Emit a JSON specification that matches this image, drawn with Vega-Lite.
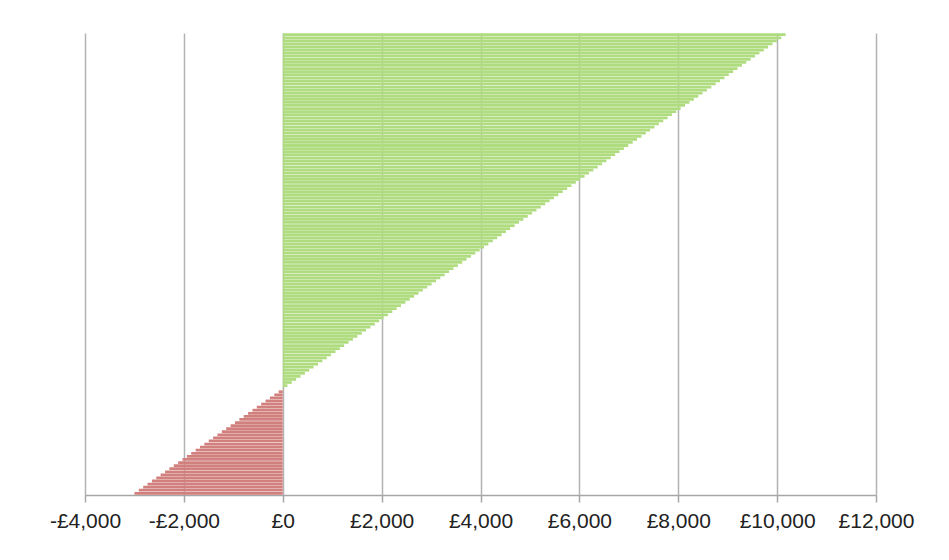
{
  "$schema": "https://vega.github.io/schema/vega-lite/v6.json",
  "width": 791,
  "height": 462,
  "autosize": {"type": "none"},
  "padding": {"left": 85, "top": 33, "right": 73, "bottom": 65},
  "background": "white",
  "config": {"view": {"stroke": null}, "font": "Liberation Sans"},
  "data": {"values": [
    {"id": 0, "v": -3000}, {"id": 1, "v": -2912}, {"id": 2, "v": -2823}, {"id": 3, "v": -2735}, {"id": 4, "v": -2646},
    {"id": 5, "v": -2558}, {"id": 6, "v": -2470}, {"id": 7, "v": -2381}, {"id": 8, "v": -2293}, {"id": 9, "v": -2204},
    {"id": 10, "v": -2116}, {"id": 11, "v": -2028}, {"id": 12, "v": -1939}, {"id": 13, "v": -1851}, {"id": 14, "v": -1762},
    {"id": 15, "v": -1674}, {"id": 16, "v": -1586}, {"id": 17, "v": -1497}, {"id": 18, "v": -1409}, {"id": 19, "v": -1320},
    {"id": 20, "v": -1232}, {"id": 21, "v": -1144}, {"id": 22, "v": -1055}, {"id": 23, "v": -967}, {"id": 24, "v": -878},
    {"id": 25, "v": -790}, {"id": 26, "v": -702}, {"id": 27, "v": -613}, {"id": 28, "v": -525}, {"id": 29, "v": -436},
    {"id": 30, "v": -348}, {"id": 31, "v": -260}, {"id": 32, "v": -171}, {"id": 33, "v": -83}, {"id": 34, "v": 6},
    {"id": 35, "v": 94}, {"id": 36, "v": 182}, {"id": 37, "v": 271}, {"id": 38, "v": 359}, {"id": 39, "v": 448},
    {"id": 40, "v": 536}, {"id": 41, "v": 624}, {"id": 42, "v": 713}, {"id": 43, "v": 801}, {"id": 44, "v": 890},
    {"id": 45, "v": 978}, {"id": 46, "v": 1066}, {"id": 47, "v": 1155}, {"id": 48, "v": 1243}, {"id": 49, "v": 1332},
    {"id": 50, "v": 1420}, {"id": 51, "v": 1508}, {"id": 52, "v": 1597}, {"id": 53, "v": 1685}, {"id": 54, "v": 1774},
    {"id": 55, "v": 1862}, {"id": 56, "v": 1950}, {"id": 57, "v": 2039}, {"id": 58, "v": 2127}, {"id": 59, "v": 2216},
    {"id": 60, "v": 2304}, {"id": 61, "v": 2392}, {"id": 62, "v": 2481}, {"id": 63, "v": 2569}, {"id": 64, "v": 2658},
    {"id": 65, "v": 2746}, {"id": 66, "v": 2834}, {"id": 67, "v": 2923}, {"id": 68, "v": 3011}, {"id": 69, "v": 3100},
    {"id": 70, "v": 3188}, {"id": 71, "v": 3276}, {"id": 72, "v": 3365}, {"id": 73, "v": 3453}, {"id": 74, "v": 3542},
    {"id": 75, "v": 3630}, {"id": 76, "v": 3718}, {"id": 77, "v": 3807}, {"id": 78, "v": 3895}, {"id": 79, "v": 3984},
    {"id": 80, "v": 4072}, {"id": 81, "v": 4160}, {"id": 82, "v": 4249}, {"id": 83, "v": 4337}, {"id": 84, "v": 4426},
    {"id": 85, "v": 4514}, {"id": 86, "v": 4602}, {"id": 87, "v": 4691}, {"id": 88, "v": 4779}, {"id": 89, "v": 4868},
    {"id": 90, "v": 4956}, {"id": 91, "v": 5044}, {"id": 92, "v": 5133}, {"id": 93, "v": 5221}, {"id": 94, "v": 5310},
    {"id": 95, "v": 5398}, {"id": 96, "v": 5486}, {"id": 97, "v": 5575}, {"id": 98, "v": 5663}, {"id": 99, "v": 5752},
    {"id": 100, "v": 5840}, {"id": 101, "v": 5928}, {"id": 102, "v": 6017}, {"id": 103, "v": 6105}, {"id": 104, "v": 6194},
    {"id": 105, "v": 6282}, {"id": 106, "v": 6370}, {"id": 107, "v": 6459}, {"id": 108, "v": 6547}, {"id": 109, "v": 6636},
    {"id": 110, "v": 6724}, {"id": 111, "v": 6812}, {"id": 112, "v": 6901}, {"id": 113, "v": 6989}, {"id": 114, "v": 7078},
    {"id": 115, "v": 7166}, {"id": 116, "v": 7254}, {"id": 117, "v": 7343}, {"id": 118, "v": 7431}, {"id": 119, "v": 7520},
    {"id": 120, "v": 7608}, {"id": 121, "v": 7696}, {"id": 122, "v": 7785}, {"id": 123, "v": 7873}, {"id": 124, "v": 7962},
    {"id": 125, "v": 8050}, {"id": 126, "v": 8138}, {"id": 127, "v": 8227}, {"id": 128, "v": 8315}, {"id": 129, "v": 8404},
    {"id": 130, "v": 8492}, {"id": 131, "v": 8580}, {"id": 132, "v": 8669}, {"id": 133, "v": 8757}, {"id": 134, "v": 8846},
    {"id": 135, "v": 8934}, {"id": 136, "v": 9022}, {"id": 137, "v": 9111}, {"id": 138, "v": 9199}, {"id": 139, "v": 9288},
    {"id": 140, "v": 9376}, {"id": 141, "v": 9464}, {"id": 142, "v": 9553}, {"id": 143, "v": 9641}, {"id": 144, "v": 9730},
    {"id": 145, "v": 9818}, {"id": 146, "v": 9906}, {"id": 147, "v": 9995}, {"id": 148, "v": 10083}, {"id": 149, "v": 10172}
  ]},
  "mark": {"type": "bar"},
  "encoding": {
    "y": {"field": "id", "type": "ordinal", "sort": "descending", "axis": null,
          "scale": {"paddingInner": 0.1, "paddingOuter": 0.1}},
    "x": {"field": "v", "type": "quantitative",
          "scale": {"domain": [-4000, 12000], "nice": false, "zero": false},
          "axis": {"title": null, "values": [-4000, -2000, 0, 2000, 4000, 6000, 8000, 10000, 12000],
                   "labelExpr": "(datum.value < 0 ? '-' : '') + '£' + format(abs(datum.value), ',')",
                   "labelOverlap": false, "labelBound": false, "labelFlush": false,
                   "grid": true, "gridColor": "#b3b3b3", "gridWidth": 1.5,
                   "domainColor": "#a6a6a6", "domainWidth": 1.5, "tickColor": "#a6a6a6", "tickWidth": 1.5, "tickSize": 7,
                   "labelFontSize": 21, "labelColor": "#222222", "labelPadding": 8}},
    "color": {"condition": {"test": "datum.v < 0", "value": "#D1807E"}, "value": "#B0DC80"}
  }
}
